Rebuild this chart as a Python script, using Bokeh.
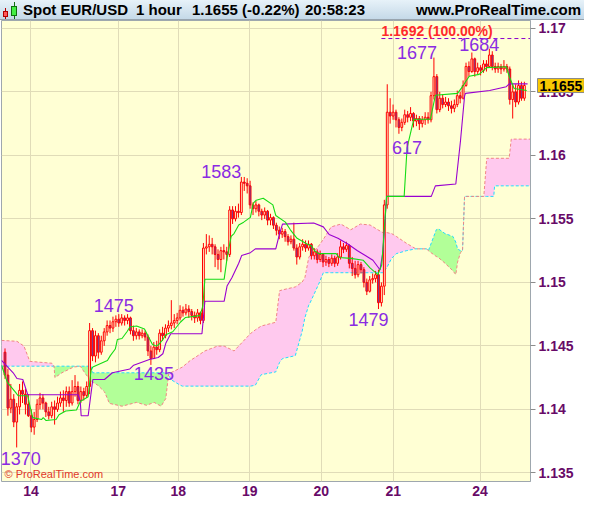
import numpy as np
from bokeh.plotting import figure
from bokeh.models import Range1d, FixedTicker, Label, CustomJSTickFormatter, Div
from bokeh.layouts import column
from bokeh.embed import file_html
from bokeh.resources import INLINE
from bokeh.core.properties import value

# ---------------- data (hourly bars) ----------------
first_open = 1.1445
close = [1.1427, 1.1401, 1.1408, 1.1390, 1.1402, 1.1415, 1.1412, 1.1404, 1.1395, 1.1386,
         1.1392, 1.1404, 1.1409, 1.1405, 1.1398, 1.1395, 1.1402, 1.1400, 1.1405, 1.1409,
         1.1407, 1.1414, 1.1405, 1.1414, 1.1418, 1.1407, 1.1414, 1.1411, 1.1418, 1.1462,
         1.1442, 1.1458, 1.1445, 1.1454, 1.1461, 1.1466, 1.1464, 1.1469, 1.1471, 1.1468,
         1.1472, 1.1470, 1.1472, 1.1462, 1.1458, 1.1461, 1.1458, 1.1460, 1.1457, 1.1446,
         1.1440, 1.1449, 1.1447, 1.1460, 1.1458, 1.1464, 1.1466, 1.1468, 1.1470, 1.1472,
         1.1478, 1.1476, 1.1479, 1.1477, 1.1474, 1.1472, 1.1476, 1.1470, 1.1527, 1.1528,
         1.1530, 1.1528, 1.1522, 1.1518, 1.1525, 1.1524, 1.1522, 1.1557, 1.1550, 1.1556,
         1.1555, 1.1579, 1.1578, 1.1576, 1.1561, 1.1558, 1.1561, 1.1556, 1.1553, 1.1556,
         1.1549, 1.1551, 1.1545, 1.1541, 1.1538, 1.1540, 1.1536, 1.1532, 1.1534, 1.1527,
         1.1520, 1.1528, 1.1530, 1.1527, 1.1530, 1.1521, 1.1524, 1.1518, 1.1522, 1.1516,
         1.1518, 1.1515, 1.1519, 1.1515, 1.1520, 1.1528, 1.1526, 1.1529, 1.1515, 1.1511,
         1.1506, 1.1514, 1.1510, 1.1500, 1.1493, 1.1502, 1.1503, 1.1506, 1.1484, 1.1497,
         1.1561, 1.1634, 1.1631, 1.1634, 1.1628, 1.1622, 1.1626, 1.1632, 1.1630, 1.1633,
         1.1627, 1.1629, 1.1625, 1.1628, 1.1630, 1.1628, 1.1647, 1.1662, 1.1636, 1.1645,
         1.1640, 1.1642, 1.1639, 1.1637, 1.1640, 1.1647, 1.1645, 1.1655, 1.1670, 1.1666,
         1.1676, 1.1666, 1.1669, 1.1667, 1.1672, 1.1670, 1.1679, 1.1670, 1.1668, 1.1670,
         1.1668, 1.1670, 1.1668, 1.1644, 1.1650, 1.1642, 1.1655, 1.1645, 1.1655]
high = [1.1448, 1.1432, 1.1420, 1.1412, 1.1405, 1.1420, 1.1422, 1.1416, 1.1412, 1.1400,
        1.1398, 1.1408, 1.1413, 1.1412, 1.1406, 1.1402, 1.1406, 1.1407, 1.1410, 1.1414,
        1.1415, 1.1418, 1.1418, 1.1423, 1.1427, 1.1422, 1.1418, 1.1417, 1.1422, 1.1468,
        1.1464, 1.1462, 1.1460, 1.1458, 1.1464, 1.1470, 1.1470, 1.1473, 1.1474, 1.1475,
        1.1475, 1.1474, 1.1475, 1.1473, 1.1466, 1.1464, 1.1463, 1.1463, 1.1462, 1.1459,
        1.1450, 1.1453, 1.1454, 1.1463, 1.1465, 1.1467, 1.1470, 1.1486, 1.1475, 1.1476,
        1.1482, 1.1481, 1.1483, 1.1482, 1.1479, 1.1477, 1.1479, 1.1477, 1.1531, 1.1538,
        1.1537, 1.1535, 1.1530, 1.1526, 1.1528, 1.1530, 1.1528, 1.1560, 1.1560, 1.1560,
        1.1562, 1.1583, 1.1583, 1.1582, 1.1580, 1.1563, 1.1564, 1.1562, 1.1558, 1.1559,
        1.1557, 1.1554, 1.1552, 1.1547, 1.1544, 1.1543, 1.1542, 1.1538, 1.1537, 1.1547,
        1.1530, 1.1531, 1.1534, 1.1533, 1.1533, 1.1531, 1.1527, 1.1526, 1.1525, 1.1523,
        1.1521, 1.1520, 1.1522, 1.1521, 1.1523, 1.1533, 1.1531, 1.1532, 1.1530, 1.1520,
        1.1517, 1.1517, 1.1516, 1.1512, 1.1503, 1.1505, 1.1507, 1.1509, 1.1510, 1.1500,
        1.1565, 1.1656, 1.1645, 1.1640, 1.1636, 1.1630, 1.1629, 1.1636, 1.1635, 1.1638,
        1.1634, 1.1632, 1.1631, 1.1631, 1.1634, 1.1634, 1.1650, 1.1677, 1.1664, 1.1650,
        1.1648, 1.1646, 1.1645, 1.1643, 1.1644, 1.1651, 1.1650, 1.1659, 1.1673, 1.1674,
        1.1681, 1.1677, 1.1673, 1.1671, 1.1675, 1.1675, 1.1684, 1.1682, 1.1673, 1.1673,
        1.1672, 1.1675, 1.1672, 1.1670, 1.1656, 1.1656, 1.1659, 1.1658, 1.1658]
low = [1.1424, 1.1395, 1.1397, 1.1386, 1.1370, 1.1396, 1.1405, 1.1396, 1.1394, 1.1382,
       1.1380, 1.1390, 1.1400, 1.1400, 1.1394, 1.1392, 1.1393, 1.1388, 1.1398, 1.1402,
       1.1398, 1.1402, 1.1402, 1.1403, 1.1410, 1.1404, 1.1405, 1.1407, 1.1409, 1.1412,
       1.1438, 1.1437, 1.1440, 1.1443, 1.1450, 1.1458, 1.1460, 1.1461, 1.1465, 1.1465,
       1.1466, 1.1466, 1.1467, 1.1459, 1.1454, 1.1455, 1.1455, 1.1456, 1.1454, 1.1442,
       1.1435, 1.1440, 1.1443, 1.1445, 1.1454, 1.1456, 1.1461, 1.1463, 1.1464, 1.1467,
       1.1470, 1.1473, 1.1474, 1.1472, 1.1470, 1.1468, 1.1469, 1.1467, 1.1468, 1.1522,
       1.1524, 1.1522, 1.1512, 1.1510, 1.1508, 1.1518, 1.1517, 1.1520, 1.1546, 1.1548,
       1.1551, 1.1553, 1.1572, 1.1570, 1.1558, 1.1553, 1.1555, 1.1552, 1.1549, 1.1550,
       1.1545, 1.1545, 1.1542, 1.1537, 1.1534, 1.1535, 1.1532, 1.1529, 1.1530, 1.1525,
       1.1514, 1.1518, 1.1525, 1.1524, 1.1525, 1.1518, 1.1518, 1.1515, 1.1516, 1.1512,
       1.1513, 1.1512, 1.1513, 1.1512, 1.1513, 1.1518, 1.1523, 1.1524, 1.1511, 1.1505,
       1.1503, 1.1504, 1.1507, 1.1496, 1.1490, 1.1492, 1.1499, 1.1500, 1.1479, 1.1481,
       1.1490, 1.1558, 1.1625, 1.1628, 1.1622, 1.1617, 1.1619, 1.1624, 1.1626, 1.1627,
       1.1622, 1.1623, 1.1620, 1.1622, 1.1624, 1.1625, 1.1626, 1.1644, 1.1633, 1.1634,
       1.1637, 1.1638, 1.1635, 1.1633, 1.1634, 1.1638, 1.1641, 1.1644, 1.1654, 1.1662,
       1.1665, 1.1662, 1.1664, 1.1663, 1.1665, 1.1666, 1.1669, 1.1667, 1.1665, 1.1665,
       1.1664, 1.1666, 1.1665, 1.1640, 1.1629, 1.1638, 1.1640, 1.1643, 1.1643]

# Ichimoku lines (bar index, price)
tenkan_x = [-1.2, 0.8, 3.5, 4.5, 7.8, 8.5, 9.5, 12.5, 13.1, 14.1, 17.5, 18.5, 20.8, 24.5,
            25.8, 28.5, 29.5, 30.1, 35.1, 36.1, 37.8, 38.5, 40.1, 41.8, 42.8, 45.1, 47.8,
            49.1, 50.5, 51.8, 52.8, 54.1, 55.1, 57.5, 60.1, 61.8, 66.8, 67.8, 68.5, 75.1,
            76.1, 77.5, 78.5, 80.1, 81.8, 84.1, 85.1, 86.1, 88.5, 91.8, 92.8, 96.1, 97.8,
            100.1, 103.5, 105.1, 106.1, 107.5, 113.5, 114.5, 118.5, 122.8, 125.1, 127.8,
            129.1, 130.8, 136.8, 137.8, 140.1, 145.8, 147.5, 155.1, 156.8, 157.8, 159.1,
            162.5, 165.1, 171.8, 172.8, 174.5, 178.8]
tenkan_y = [1.14348, 1.14213, 1.14138, 1.14107, 1.14107, 1.14032, 1.13935, 1.13920, 1.13935,
            1.13912, 1.13920, 1.13957, 1.13987, 1.13995, 1.14062, 1.14100, 1.14310, 1.14333,
            1.14385, 1.14423, 1.14475, 1.14550, 1.14558, 1.14611, 1.14648, 1.14656, 1.14633,
            1.14573, 1.14513, 1.14498, 1.14513, 1.14550, 1.14588, 1.14611, 1.14686, 1.14723,
            1.14738, 1.14813, 1.15024, 1.15024, 1.15189, 1.15362, 1.15384, 1.15452, 1.15474,
            1.15512, 1.15624, 1.15647, 1.15662, 1.15610, 1.15527, 1.15474, 1.15414, 1.15347,
            1.15302, 1.15287, 1.15249, 1.15226, 1.15226, 1.15196, 1.15189, 1.15174, 1.15114,
            1.15061, 1.15136, 1.15677, 1.15677, 1.16060, 1.16285, 1.16285, 1.16473, 1.16488,
            1.16541, 1.16578, 1.16623, 1.16638, 1.16691, 1.16698, 1.16623, 1.16526, 1.16511]
kijun_x = [-1.2, 2.8, 4.1, 6.1, 7.8, 25.1, 25.8, 26.1, 28.5, 30.1, 34.1, 36.8, 42.8, 44.1,
           49.5, 52.5, 54.1, 55.1, 56.8, 67.5, 68.5, 75.1, 76.1, 77.8, 80.1, 81.1, 84.1,
           85.8, 92.8, 94.1, 95.1, 105.8, 109.1, 111.1, 114.1, 117.5, 120.8, 123.5, 126.1,
           128.5, 129.5, 130.8, 146.1, 147.5, 154.5, 156.1, 157.5, 157.8, 166.1, 171.8,
           172.8, 179.1]
kijun_y = [1.14385, 1.14288, 1.14243, 1.14235, 1.14115, 1.14115, 1.14062, 1.13950, 1.13950,
           1.14235, 1.14235, 1.14288, 1.14318, 1.14348, 1.14393, 1.14408, 1.14438, 1.14520,
           1.14596, 1.14596, 1.14851, 1.14851, 1.14971, 1.15039, 1.15151, 1.15211, 1.15234,
           1.15264, 1.15264, 1.15384, 1.15459, 1.15467, 1.15437, 1.15377, 1.15347, 1.15302,
           1.15249, 1.15211, 1.15174, 1.15099, 1.15234, 1.15677, 1.15677, 1.15760, 1.15775,
           1.16113, 1.16466, 1.16488, 1.16511, 1.16541, 1.16563, 1.16563]
span_x = [-1.2, 4.1, 6.5, 8.5, 16.1, 16.8, 17.1, 19.5, 23.5, 25.8, 27.8, 29.5, 30.1, 31.8,
          34.1, 35.8, 40.1, 45.1, 48.5, 51.1, 53.5, 55.1, 56.1, 56.8, 60.1, 60.8, 63.5, 65.1,
          68.5, 72.8, 75.1, 78.5, 84.1, 85.8, 87.8, 92.8, 94.1, 95.1, 99.5, 101.8, 102.8,
          104.1, 104.5, 107.5, 109.1, 111.8, 115.1, 118.5, 121.8, 125.1, 127.8, 129.5, 130.8,
          132.5, 134.1, 137.5, 140.8, 144.5, 145.1, 147.8, 148.5, 150.8, 153.5, 154.5, 155.1,
          156.1, 156.8, 157.5, 164.1, 165.1, 167.5, 167.8, 172.8, 173.5, 180.1]
span_a = [1.14543, 1.14536, 1.14498, 1.14378, 1.14363, 1.14340, 1.14250, 1.14288, 1.14333,
          1.14340, 1.14273, 1.14220, 1.14213, 1.14190, 1.14138, 1.14047, 1.14025, 1.14055,
          1.14032, 1.14055, 1.14025, 1.14085, 1.14280, 1.14288, 1.14325, 1.14333, 1.14385,
          1.14408, 1.14460, 1.14498, 1.14498, 1.14460, 1.14596, 1.14626, 1.14656, 1.14686,
          1.14934, 1.14941, 1.14964, 1.15001, 1.15039, 1.15196, 1.15211, 1.15287, 1.15339,
          1.15437, 1.15459, 1.15414, 1.15459, 1.15452, 1.15414, 1.15392, 1.15392, 1.15384,
          1.15362, 1.15309, 1.15264, 1.15264, 1.15249, 1.15204, 1.15196, 1.15151, 1.15091,
          1.15061, 1.15159, 1.15234, 1.15249, 1.15677, 1.15677, 1.15977, 1.15977, 1.15977,
          1.15977, 1.16128, 1.16128]
span_b = [1.14340, 1.14340, 1.14340, 1.14340, 1.14340, 1.14340, 1.14340, 1.14340, 1.14340,
          1.14340, 1.14340, 1.14340, 1.14288, 1.14288, 1.14288, 1.14288, 1.14288, 1.14288,
          1.14288, 1.14288, 1.14288, 1.14288, 1.14280, 1.14235, 1.14190, 1.14183, 1.14183,
          1.14183, 1.14183, 1.14183, 1.14183, 1.14183, 1.14183, 1.14190, 1.14273, 1.14295,
          1.14370, 1.14400, 1.14423, 1.14611, 1.14723, 1.14821, 1.14836, 1.14986, 1.15076,
          1.15076, 1.15076, 1.15076, 1.15076, 1.15076, 1.15076, 1.15076, 1.15114, 1.15189,
          1.15226, 1.15249, 1.15264, 1.15264, 1.15249, 1.15414, 1.15422, 1.15384, 1.15362,
          1.15317, 1.15264, 1.15249, 1.15249, 1.15677, 1.15677, 1.15677, 1.15677, 1.15760,
          1.15760, 1.15760, 1.15760]

day_ticks = [8.9, 38.8, 59.4, 83.9, 108.4, 133.1, 162.8]
day_labels = ["14", "17", "18", "19", "20", "21", "24"]
price_ticks = [1.135, 1.14, 1.145, 1.15, 1.155, 1.16, 1.165, 1.17]

swing_bar = [4, 40, 50, 81, 128, 135, 147, 166]
swing_kind = ["low", "high", "low", "high", "low", "low", "high", "high"]
swing_text = ["1370", "1475", "1435", "1583", "1479", "617", "1677", "1684"]

fib_level = 1.1692
fib_text = "1.1692 (100.00%)"
fib_start = 129

last_price = 1.1655
header_texts = ["Spot EUR/USD", "1 hour", "1.1655 (-0.22%)", "20:58:23"]
site_text = "www.ProRealTime.com"

# ---------------- layout / style ----------------
W, H_HEAD, H_FIG = 584, 20, 503
LEFT, RIGHT, TOP, BOTTOM = 1, 54, 20, 22
X0, X1 = -1.2, 180.1
Y0, Y1 = 1.13432, 1.17062
FW, FH = W - LEFT - RIGHT, H_FIG - TOP - BOTTOM
xpx = (X1 - X0) / FW
ypx = (Y1 - Y0) / FH
FONT = "Liberation Sans"
AXIS_COLOR = "#680a68"
BG = "#ffffd4"

# label offsets (screen px): dx right, dy up (from extreme to label centre)
swing_dx = [4, -8, 3, -20, -10, 8, -17, -10]
swing_dy = [-11, 8.5, -9, 5.5, -10.5, -13.5, 5.5, 4]

# The figure's transparent top border sits over the header strip.
p = figure(width=W, height=H_FIG, x_range=Range1d(X0, X1), y_range=Range1d(Y0, Y1),
           y_axis_location="right", toolbar_location=None, output_backend="svg",
           min_border_left=LEFT, min_border_right=RIGHT, min_border_top=TOP,
           min_border_bottom=BOTTOM, background_fill_color=BG,
           border_fill_alpha=0, outline_line_color="#9ea7ae",
           margin=(-H_HEAD, 0, 0, 0))

# cloud
sa = np.array(span_a)
sb = np.array(span_b)
ctop = np.maximum(sa, sb)
p.varea(x=span_x, y1=sb, y2=ctop, fill_color="#ffc9ee")
p.varea(x=span_x, y1=sa, y2=ctop, fill_color="#b2ff98")
p.line(span_x, span_b, line_color="#22dcff", line_dash="3 2", line_width=1)
p.line(span_x, span_a, line_color="#f08585", line_dash="3 2", line_width=1)

# candles
idx = np.arange(len(close))
c = np.array(close)
o = np.array([first_open] + close[:-1])
hi = np.array(high)
lo = np.array(low)
bull = c >= o
p.segment(x0=idx, y0=lo, x1=idx, y1=hi, line_color="#ff0000", line_width=1)
p.vbar(x=idx, width=0.62, top=np.maximum(o, c), bottom=np.minimum(o, c),
       fill_color=np.where(bull, BG, "#6646a8").tolist(), line_color="#ff0000",
       line_width=1)

# tenkan / kijun
p.line(kijun_x, kijun_y, line_color="#9a00d0", line_width=1.1)
p.line(tenkan_x, tenkan_y, line_color="#14dc14", line_width=1.1)

# fibonacci level
p.line([fib_start, X1], [fib_level, fib_level], line_color="#8a00cc",
       line_dash="4 3", line_width=1)
p.add_layout(Label(x=fib_start, y=fib_level, text=fib_text, text_font=FONT,
                   text_font_size="14px", text_font_style="bold", text_color="#ff2a2a",
                   text_baseline="bottom", text_align="left"))

# swing labels
sx, sy = [], []
for b, k, dx, dy in zip(swing_bar, swing_kind, swing_dx, swing_dy):
    base = high[b] if k == "high" else low[b]
    sx.append(b + dx * xpx)
    sy.append(base + dy * ypx)
p.text(x=sx, y=sy, text=swing_text, text_font=value(FONT), text_font_size="18px",
       text_color="#8a2be2", text_align="center", text_baseline="middle")

# axes
ya = p.yaxis[0]
yt = FixedTicker(ticks=price_ticks)
ya.ticker = yt
ya.formatter = CustomJSTickFormatter(code="return tick.toFixed(3).replace(/0$/, '');")
ya.major_label_text_font = FONT
ya.major_label_text_font_size = "14px"
ya.major_label_text_font_style = "bold"
ya.major_label_text_color = AXIS_COLOR
ya.major_tick_out = 5
ya.major_tick_in = 0
ya.minor_tick_out = 0
ya.minor_tick_in = 0
ya.major_tick_line_color = "#8c8c8c"
ya.axis_line_color = "#9ea7ae"
ya.major_label_standoff = 3

xa = p.xaxis[0]
xt = FixedTicker(ticks=day_ticks)
xa.ticker = xt
xa.formatter = CustomJSTickFormatter(
    args=dict(dpos=day_ticks, dlab=day_labels),
    code="const i = dpos.indexOf(tick); return i >= 0 ? dlab[i] : '';")
xa.major_label_text_font = FONT
xa.major_label_text_font_size = "14px"
xa.major_label_text_font_style = "bold"
xa.major_label_text_color = AXIS_COLOR
xa.major_tick_out = 0
xa.major_tick_in = 0
xa.minor_tick_out = 0
xa.minor_tick_in = 0
xa.axis_line_color = None
xa.major_label_standoff = 4

p.xgrid.ticker = xt
p.ygrid.ticker = yt
p.grid.grid_line_color = "#e0dcb8"
p.grid.grid_line_width = 1

# last-price tag (in a side panel so that it is not clipped to the frame)
p.add_layout(Label(x=X1 + 7 * xpx, y=last_price, text=f"{last_price:.4f}",
                   text_font=FONT, text_font_size="14px", text_font_style="bold",
                   text_color="black", text_baseline="middle", text_align="left",
                   background_fill_color="#f9c802", border_line_color="#8a8a8a",
                   padding=2), "above")
p.add_layout(Label(x=X0 + 3 * xpx, y=Y0 + 2 * ypx, text="\u00a9 ProRealTime.com",
                   text_font=FONT, text_font_size="11px", text_color="#e0382a",
                   text_baseline="bottom", text_align="left"))

# ---------------- header ----------------
lefts = [23, 136, 192, 305]
spans = "".join(
    f'<span style="position:absolute;left:{x}px;top:0px;">{t}</span>'
    for x, t in zip(lefts, header_texts))
icon = (
    '<div style="position:absolute;left:5px;top:8px;width:1px;height:11px;background:#b00000;"></div>'
    '<div style="position:absolute;left:3px;top:11px;width:5px;height:6px;background:#ff5a5a;border:1px solid #b00000;box-sizing:border-box;"></div>'
    '<div style="position:absolute;left:14px;top:2px;width:1px;height:17px;background:#107010;"></div>'
    '<div style="position:absolute;left:11px;top:6px;width:6px;height:10px;background:#44ee44;border:1px solid #107010;box-sizing:border-box;"></div>'
)
html = (
    f'<div style="position:relative;width:{W}px;height:{H_HEAD}px;'
    'background:linear-gradient(#e7f2f9,#c5d9e8);box-sizing:border-box;'
    'border-bottom:1px solid #98a4ae;'
    f"font-family:'{FONT}',Arial,sans-serif;font-weight:bold;font-size:15px;"
    'line-height:20px;color:#000;white-space:nowrap;overflow:hidden;">'
    + icon + spans +
    f'<span style="position:absolute;right:3px;top:0px;">{site_text}</span></div>'
)
header = Div(text=html, width=W, height=H_HEAD, margin=0)

layout = column(header, p, spacing=0)
open("out.html", "w").write(file_html(layout, INLINE))
